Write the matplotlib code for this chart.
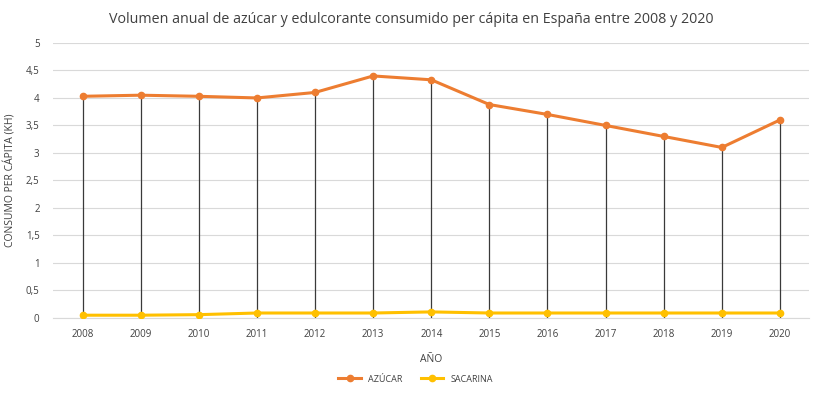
import matplotlib
matplotlib.use("Agg")
import matplotlib.pyplot as plt
from matplotlib.ticker import FuncFormatter

years = ["2008", "2009", "2010", "2011", "2012", "2013", "2014", "2015", "2016", "2017", "2018", "2019", "2020"]
azucar = [4.03, 4.05, 4.03, 4.00, 4.10, 4.40, 4.33, 3.88, 3.70, 3.50, 3.30, 3.10, 3.60]
sacarina = [0.05, 0.05, 0.06, 0.09, 0.09, 0.09, 0.11, 0.09, 0.09, 0.09, 0.09, 0.09, 0.09]
yticks = [0, 0.5, 1, 1.5, 2, 2.5, 3, 3.5, 4, 4.5, 5]

plt.rcParams['font.family'] = ['Open Sans', 'DejaVu Sans']

fig = plt.figure(figsize=(8.23, 3.94), dpi=100)
ax = fig.add_axes([0.065, 0.193, 0.918, 0.698])

x = list(range(len(years)))
ax.vlines(x, 0, azucar, colors="#3a3a3a", linewidth=0.9, zorder=2)
ax.plot(x, azucar, color="#ED7D31", linewidth=2.2, marker="o", markersize=4.5, label="AZÚCAR", zorder=3)
ax.plot(x, sacarina, color="#FFC000", linewidth=2.2, marker="o", markersize=4.5, label="SACARINA", zorder=3)

ax.set_xlim(-0.5, len(years) - 0.5)
ax.set_ylim(0, 5)
ax.set_yticks(yticks)
ax.yaxis.set_major_formatter(FuncFormatter(lambda v, p: ("%g" % v).replace(".", ",")))
ax.set_xticks(x)
ax.set_xticklabels(years)
ax.grid(axis="y", color="#d9d9d9", linewidth=0.8, zorder=0)
for s in ["top", "right", "left"]:
    ax.spines[s].set_visible(False)
ax.spines["bottom"].set_color("#d9d9d9")
ax.tick_params(axis="both", length=0, labelsize=7, colors="#404040")
ax.tick_params(axis="x", pad=8)
ax.tick_params(axis="y", pad=10)

ax.set_xlabel("AÑO", fontsize=7.5, color="#404040", labelpad=10)
ax.set_ylabel("CONSUMO PER CÁPITA (KH)", fontsize=7.5, color="#404040")
ax.yaxis.set_label_coords(-0.049, 0.5)
fig.suptitle("Volumen anual de azúcar y edulcorante consumido per cápita en España entre 2008 y 2020",
             fontsize=10.3, color="#404040", y=0.97)

fig.legend(loc="center", bbox_to_anchor=(0.505, 0.038), ncol=2, frameon=False, fontsize=6.5,
           handlelength=2.5, columnspacing=2.0, labelcolor="#404040")

fig.savefig("out.png", dpi=100)
